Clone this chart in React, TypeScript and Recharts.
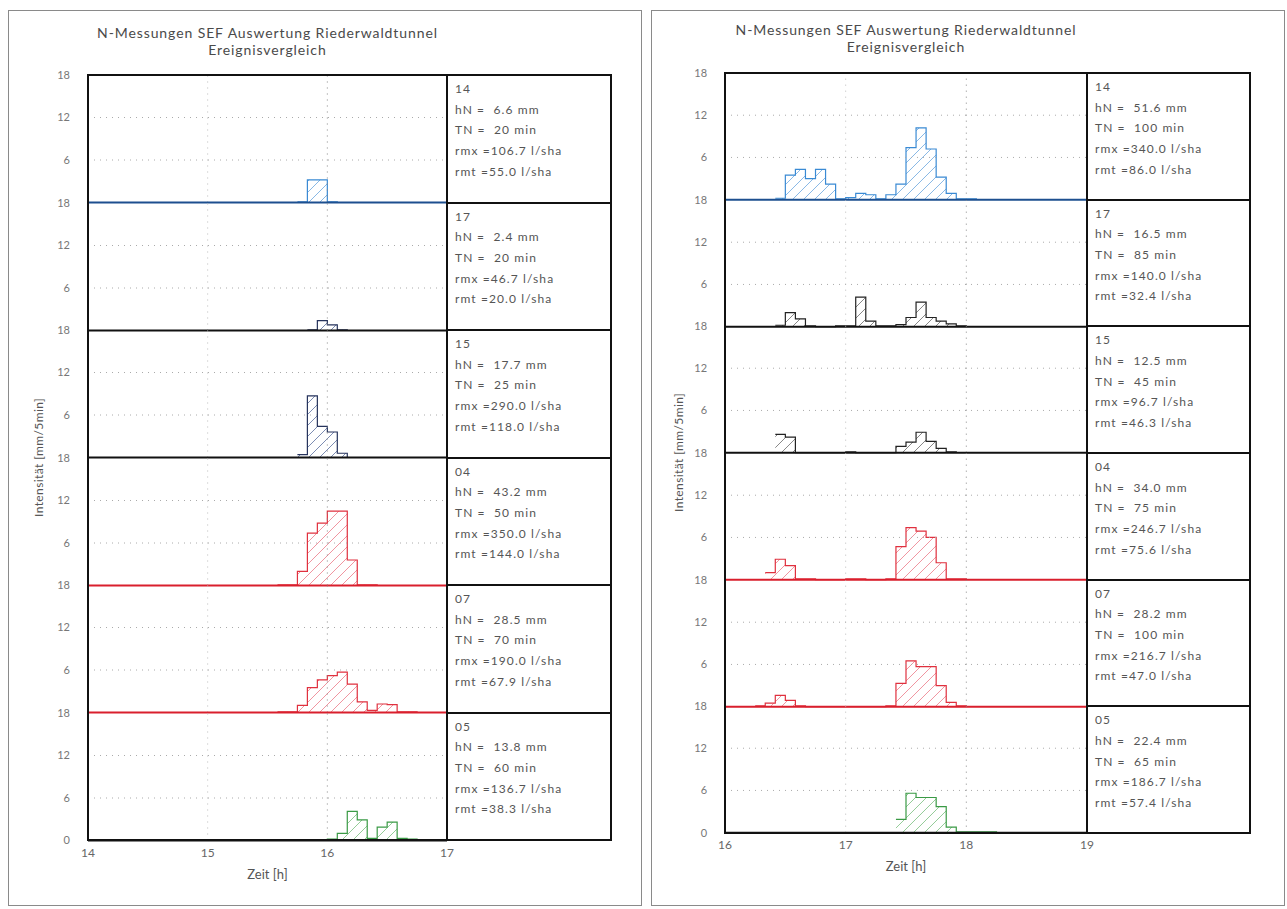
import React from "react";
import { ComposedChart, Area, XAxis, YAxis, ReferenceLine } from "recharts";

// ---------------- data ----------------
const titleLine1 = "N-Messungen SEF Auswertung Riederwaldtunnel";
const titleLine2 = "Ereignisvergleich";
const yLabel = "Intensität [mm/5min]";
const xLabel = "Zeit [h]";

const leftHours = [14, 15, 16, 17];
const rightHours = [16, 17, 18, 19];
const yTicks = [6, 12, 18];
const yTicksBottom = [0, 6, 12, 18];
const gridLevels = [6, 12];

const eventIds = ["14", "17", "15", "04", "07", "05"];

// left panel: start of first 5-min bin and intensities [mm/5min]
const leftStarts = ["15:45", "15:50", "15:45", "15:35", "15:35", "15:55"];
const left14 = [0.1, 3.2, 3.2, 0.1];
const left17 = [0.1, 1.4, 0.8, 0.1];
const left15 = [0.4, 8.7, 4.4, 3.6, 0.6];
const left04 = [0.1, 0.1, 2.0, 7.4, 8.8, 10.5, 10.5, 3.6, 0.1, 0.1];
const left07 = [0.1, 0.1, 1.0, 3.5, 4.6, 5.2, 5.7, 4.0, 1.5, 0.3, 1.2, 1.1, 0.1, 0.1];
const left05 = [0.1, 0.2, 1.0, 4.1, 2.9, 0.3, 1.9, 2.6, 0.3, 0.2, 0.1, 0.1];
const leftSeries = [left14, left17, left15, left04, left07, left05];
const leftHN = ["6.6", "2.4", "17.7", "43.2", "28.5", "13.8"];
const leftTN = ["20", "20", "25", "50", "70", "60"];
const leftRmx = ["106.7", "46.7", "290.0", "350.0", "190.0", "136.7"];
const leftRmt = ["55.0", "20.0", "118.0", "144.0", "67.9", "38.3"];

// right panel
const rightStarts = ["16:25", "16:25", "16:25", "16:20", "16:15", "17:25"];
const right14 = [0.2, 3.5, 4.3, 3.0, 4.3, 2.2, 0.1, 0.3, 0.9, 0.7, 0.1, 0.7, 2.2, 7.4, 10.2, 7.2, 3.2, 0.9, 0.1, 0.1];
const right17 = [0.2, 2.0, 1.1, 0.1, 0, 0, 0.1, 0.1, 4.2, 0.8, 0.1, 0.1, 0.3, 1.3, 3.5, 1.3, 0.8, 0.4, 0.1];
const right15 = [2.6, 2.2, 0, 0, 0, 0, 0, 0.1, 0, 0, 0, 0, 0.9, 1.5, 2.9, 1.6, 0.6, 0.1];
const right04 = [1.0, 2.9, 2.0, 0.1, 0.1, 0, 0, 0, 0.1, 0.1, 0, 0, 0.1, 4.7, 7.4, 6.9, 6.0, 2.4, 0.1, 0.1];
const right07 = [0.1, 0.5, 1.6, 0.9, 0.1, 0, 0, 0, 0, 0, 0, 0, 0, 0.1, 3.3, 6.5, 5.7, 5.7, 3.0, 0.6, 0.1];
const right05 = [1.9, 5.6, 5.0, 5.0, 3.7, 0.8, 0.1, 0.1, 0.1, 0.1];
const rightSeries = [right14, right17, right15, right04, right07, right05];
const rightHN = ["51.6", "16.5", "12.5", "34.0", "28.2", "22.4"];
const rightTN = ["100", "85", "45", "75", "100", "65"];
const rightRmx = ["340.0", "140.0", "96.7", "246.7", "216.7", "186.7"];
const rightRmt = ["86.0", "32.4", "46.3", "75.6", "47.0", "57.4"];

// ---------------- styles ----------------
const BLUE = { stroke: "#3a8ad4", hatch: "#6aa6de", base: "#1d4f8f" };
const NAVY = { stroke: "#26335c", hatch: "#5a6e9e", base: "#111111" };
const BLACK = { stroke: "#222222", hatch: "#666666", base: "#111111" };
const RED = { stroke: "#e0303e", hatch: "#ec7a88", base: "#d91f2d" };
const GREEN = { stroke: "#3a9a45", hatch: "#78be7e", base: "#111111" };
const leftColors = [BLUE, NAVY, NAVY, RED, RED, GREEN];
const rightColors = [BLUE, BLACK, BLACK, RED, RED, GREEN];

const FONT = "Lato, 'DejaVu Sans', sans-serif";

function toPoints(start: string, values: number[]) {
  const [h, m] = start.split(":").map(Number);
  const t0 = h + m / 60;
  const pts = values.map((v, i) => ({ t: t0 + (i * 5) / 60, v }));
  pts.push({ t: t0 + (values.length * 5) / 60, v: 0 });
  return pts;
}

type PanelCfg = {
  key: string;
  frameLeft: number;
  plotL: number;
  plotR: number;
  textR: number;
  top: number;
  rowH: number;
  hours: number[];
  starts: string[];
  series: number[][];
  hN: string[];
  TN: string[];
  rmx: string[];
  rmt: string[];
  colors: { stroke: string; hatch: string; base: string }[];
  titleY: number;
  yLabelX: number;
};

const YAXW = 40;
const PAD = 8;
const PADR = 14;
const XAXH = 42;

function Row(props: { cfg: PanelCfg; i: number }) {
  const { cfg, i } = props;
  const bottom = i === cfg.series.length - 1;
  const plotW = cfg.plotR - cfg.plotL;
  const rowTop = cfg.top + i * cfg.rowH;
  const data = toPoints(cfg.starts[i], cfg.series[i]);
  const col = cfg.colors[i];
  const pid = `hatch-${cfg.key}-${i}`;
  const height = cfg.rowH + PAD + (bottom ? XAXH : PAD);
  const inner = cfg.hours.slice(1, -1);
  return (
    <div style={{ position: "absolute", left: cfg.plotL - YAXW, top: rowTop - PAD }}>
      <ComposedChart
        width={YAXW + plotW + PADR}
        height={height}
        data={data}
        margin={{ top: PAD, right: PADR, bottom: bottom ? 0 : PAD, left: 0 }}
      >
        <XAxis
          type="number"
          dataKey="t"
          domain={[cfg.hours[0], cfg.hours[cfg.hours.length - 1]]}
          ticks={cfg.hours}
          allowDataOverflow
          hide={!bottom}
          height={XAXH}
          axisLine={{ stroke: "#111", strokeWidth: 2 }}
          tickLine={false}
          tick={{ fill: "#666", fontSize: 12, fontFamily: FONT }}
          interval={0}
          label={{ value: xLabel, position: "insideBottom", offset: 4, fill: "#555", fontSize: 13, fontFamily: FONT }}
        />
        <YAxis
          type="number"
          domain={[0, 18]}
          ticks={bottom ? yTicksBottom : yTicks}
          interval={0}
          width={YAXW}
          axisLine={false}
          tickLine={false}
          tickMargin={12}
          tick={{ fill: "#777", fontSize: 11, fontFamily: FONT }}
        />
        {gridLevels.map((g) => (
          <ReferenceLine key={`h${g}`} y={g} stroke="#aaa" strokeDasharray="1 5" />
        ))}
        {inner.map((hh, k) => (
          <ReferenceLine key={`v${hh}`} x={hh} stroke={k === inner.length - 1 ? "#888" : "#bbb"} strokeDasharray="1 5" />
        ))}
        <Area
          type="stepAfter"
          dataKey="v"
          stroke={col.stroke}
          strokeWidth={1.2}
          fill={`url(#${pid})`}
          fillOpacity={1}
          baseValue={0}
          dot={false}
          activeDot={false}
          isAnimationActive={false}
        />
        {!bottom && <ReferenceLine y={0} stroke={col.base} strokeWidth={2} />}
      </ComposedChart>
    </div>
  );
}

function Panel({ cfg }: { cfg: PanelCfg }) {
  const plotW = cfg.plotR - cfg.plotL;
  const n = cfg.series.length;
  const totalH = cfg.rowH * n;
  const center = (cfg.plotL + cfg.plotR) / 2;
  return (
    <>
      <div
        style={{
          position: "absolute",
          left: cfg.frameLeft,
          top: 10,
          width: 634,
          height: 896,
          border: "1px solid #8a8a8a",
          boxSizing: "border-box",
        }}
      />
      <div
        style={{
          position: "absolute",
          left: center - 250,
          width: 500,
          top: cfg.titleY,
          textAlign: "center",
          fontFamily: FONT,
          fontSize: 14,
          letterSpacing: 0.9,
          color: "#4a4a4a",
          lineHeight: "17px",
        }}
      >
        <div>{titleLine1}</div>
        <div>{titleLine2}</div>
      </div>
      <div
        style={{
          position: "absolute",
          left: cfg.yLabelX - 100,
          top: cfg.top + totalH / 2 - 8,
          width: 200,
          textAlign: "center",
          transform: "rotate(-90deg)",
          fontFamily: FONT,
          fontSize: 12,
          letterSpacing: 0.4,
          color: "#555",
        }}
      >
        {yLabel}
      </div>
      {cfg.series.map((_, i) => (
        <Row key={i} cfg={cfg} i={i} />
      ))}
      <div
        style={{
          position: "absolute",
          left: cfg.plotL - 1,
          top: cfg.top - 1,
          width: plotW + 2,
          height: totalH + 2,
          border: "2px solid #111",
          boxSizing: "border-box",
          pointerEvents: "none",
        }}
      />
      {cfg.series.map((_, i) => (
        <div
          key={`t${i}`}
          style={{
            position: "absolute",
            left: cfg.plotR - 1,
            top: cfg.top + i * cfg.rowH - 1,
            width: cfg.textR - cfg.plotR + 2,
            height: cfg.rowH + 2,
            border: "2px solid #111",
            boxSizing: "border-box",
            paddingLeft: 7,
            paddingTop: 3,
            fontFamily: FONT,
            fontSize: 12,
            letterSpacing: 1.1,
            lineHeight: "20.7px",
            color: "#555",
            whiteSpace: "pre",
          }}
        >
          <div>{eventIds[i]}</div>
          <div>{`hN =  ${cfg.hN[i]} mm`}</div>
          <div>{`TN =  ${cfg.TN[i]} min`}</div>
          <div>{`rmx =${cfg.rmx[i]} l/sha`}</div>
          <div>{`rmt =${cfg.rmt[i]} l/sha`}</div>
        </div>
      ))}
    </>
  );
}

const leftCfg: PanelCfg = {
  key: "L",
  frameLeft: 8,
  plotL: 88,
  plotR: 447,
  textR: 611,
  top: 75,
  rowH: 127.5,
  hours: leftHours,
  starts: leftStarts,
  series: leftSeries,
  hN: leftHN,
  TN: leftTN,
  rmx: leftRmx,
  rmt: leftRmt,
  colors: leftColors,
  titleY: 24,
  yLabelX: 38,
};

const rightCfg: PanelCfg = {
  key: "R",
  frameLeft: 651,
  plotL: 725,
  plotR: 1087,
  textR: 1250,
  top: 73,
  rowH: 126.67,
  hours: rightHours,
  starts: rightStarts,
  series: rightSeries,
  hN: rightHN,
  TN: rightTN,
  rmx: rightRmx,
  rmt: rightRmt,
  colors: rightColors,
  titleY: 21,
  yLabelX: 678,
};

export default function App() {
  const all = [leftCfg, rightCfg];
  return (
    <div style={{ position: "absolute", left: 0, top: 0, width: 1287, height: 909, background: "#fff" }}>
      <svg width={0} height={0} style={{ position: "absolute" }}>
        <defs>
          {all.map((cfg) =>
            cfg.colors.map((c, i) => (
              <pattern
                key={`${cfg.key}${i}`}
                id={`hatch-${cfg.key}-${i}`}
                patternUnits="userSpaceOnUse"
                width={11}
                height={11}
              >
                <path d="M0,11 L11,0 M-2,2 L2,-2 M9,13 L13,9" stroke={c.hatch} strokeWidth={0.8} />
              </pattern>
            ))
          )}
        </defs>
      </svg>
      <Panel cfg={leftCfg} />
      <Panel cfg={rightCfg} />
    </div>
  );
}
